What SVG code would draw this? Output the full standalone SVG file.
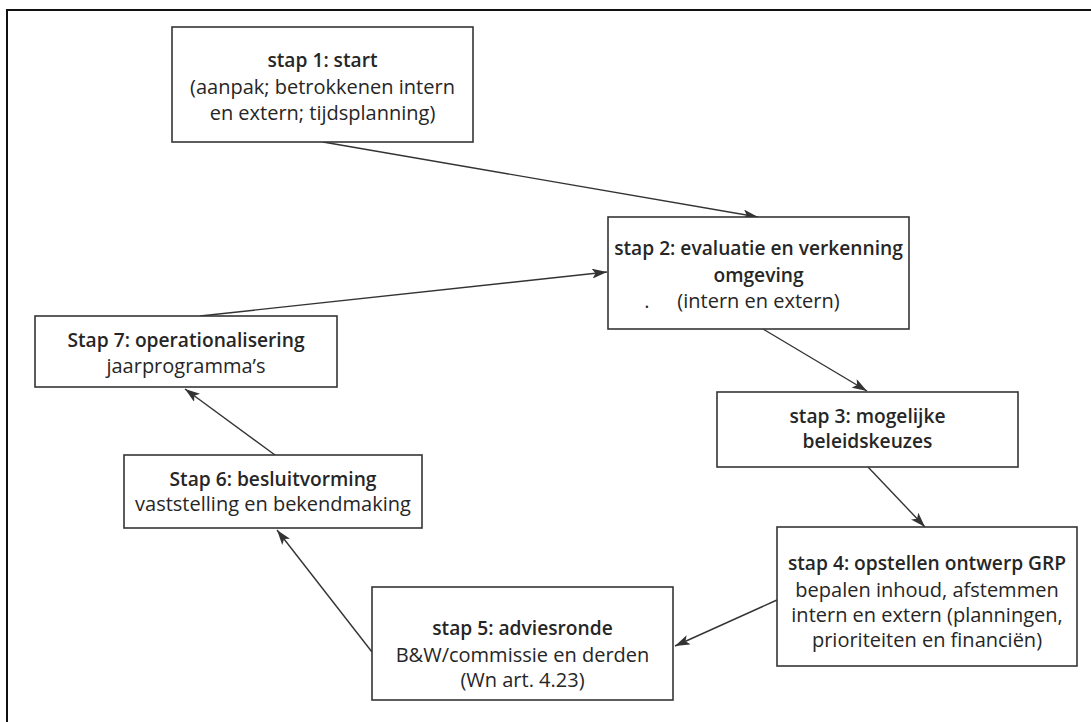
<svg xmlns="http://www.w3.org/2000/svg" width="1091" height="722" viewBox="0 0 1091 722">
<defs>
<style>
.box{fill:#fff;stroke:#353535;stroke-width:1.6}
.t{font-family:"Open Sans","Liberation Sans",sans-serif;font-size:20px;fill:#262626;text-anchor:middle}
.b{font-weight:600;font-size:19.2px}
.c{stroke:#333;stroke-width:1.4;fill:none;marker-end:url(#ah)}
</style>
<marker id="ah" viewBox="0 0 15 10" refX="15" refY="5" markerWidth="15" markerHeight="10" markerUnits="userSpaceOnUse" orient="auto">
<path d="M0,0 L15,5 L0,10 L3.5,5 z" fill="#333"/>
</marker>
</defs>
<rect width="1091" height="722" fill="#fff"/>
<path d="M7,722 V10 H1091" fill="none" stroke="#111" stroke-width="2"/>
<g id="connectors">
<line class="c" x1="323" y1="142" x2="758" y2="217"/>
<line class="c" x1="200" y1="316" x2="607" y2="272"/>
<line class="c" x1="763" y1="329" x2="867" y2="391"/>
<line class="c" x1="868" y1="467" x2="925" y2="527"/>
<line class="c" x1="777" y1="600" x2="675" y2="646"/>
<line class="c" x1="372" y1="652" x2="277" y2="530"/>
<line class="c" x1="275" y1="455" x2="185" y2="389"/>
</g>
<g id="stap1">
<rect class="box" x="172" y="27" width="301" height="115"/>
<text class="t b" x="322.5" y="67">stap 1: start</text>
<text class="t" x="322.5" y="94">(aanpak; betrokkenen intern</text>
<text class="t" x="322.5" y="120">en extern; tijdsplanning)</text>
</g>
<g id="stap2">
<rect class="box" x="608" y="217" width="301" height="112"/>
<text class="t b" x="758.5" y="255">stap 2: evaluatie en verkenning</text>
<text class="t b" x="758.5" y="282">omgeving</text>
<text class="t" x="647" y="308">.</text>
<text class="t" x="758.5" y="308">(intern en extern)</text>
</g>
<g id="stap3">
<rect class="box" x="717" y="392" width="301" height="75"/>
<text class="t b" x="867.5" y="423">stap 3: mogelijke</text>
<text class="t b" x="867.5" y="448">beleidskeuzes</text>
</g>
<g id="stap4">
<rect class="box" x="777" y="527" width="300" height="139"/>
<text class="t b" x="927" y="570">stap 4: opstellen ontwerp GRP</text>
<text class="t" x="927" y="597">bepalen inhoud, afstemmen</text>
<text class="t" x="927" y="622">intern en extern (planningen,</text>
<text class="t" x="927" y="647">prioriteiten en financiën)</text>
</g>
<g id="stap5">
<rect class="box" x="372" y="587" width="301" height="113"/>
<text class="t b" x="522.5" y="635">stap 5: adviesronde</text>
<text class="t" x="522.5" y="662">B&amp;W/commissie en derden</text>
<text class="t" x="522.5" y="687">(Wn art. 4.23)</text>
</g>
<g id="stap6">
<rect class="box" x="124" y="455" width="298" height="73"/>
<text class="t b" x="273" y="486">Stap 6: besluitvorming</text>
<text class="t" x="273" y="511">vaststelling en bekendmaking</text>
</g>
<g id="stap7">
<rect class="box" x="35" y="316" width="302" height="71"/>
<text class="t b" x="186" y="347">Stap 7: operationalisering</text>
<text class="t" x="186" y="373">jaarprogramma’s</text>
</g>
</svg>
